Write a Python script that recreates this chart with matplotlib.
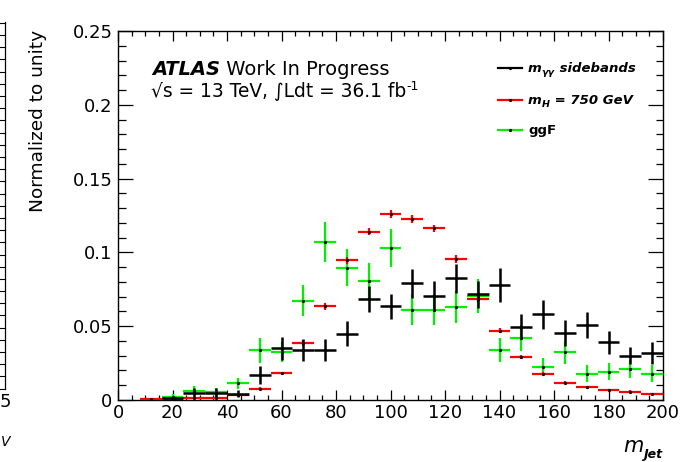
import matplotlib
matplotlib.use("Agg")
import matplotlib.pyplot as plt
from matplotlib.lines import Line2D
from matplotlib.ticker import MultipleLocator, FixedLocator, FixedFormatter
import numpy as np

W, H = 684, 462

# ---------------- data ----------------
bin_centers = [4, 12, 20, 28, 36, 44, 52, 60, 68, 76, 84, 92, 100, 108, 116,
               124, 132, 140, 148, 156, 164, 172, 180, 188, 196]
bin_halfwidth = 4

sideband_vals = [0, 0, 0.0012, 0.0050, 0.0048, 0.0042, 0.0170, 0.0350, 0.0340,
                 0.0340, 0.0450, 0.0686, 0.0634, 0.0790, 0.0704, 0.0824, 0.0715,
                 0.0777, 0.0495, 0.0580, 0.0454, 0.0510, 0.0390, 0.0300, 0.0320]
sideband_errs = [0, 0, 0.0010, 0.0030, 0.0030, 0.0025, 0.0060, 0.0080, 0.0075,
                 0.0075, 0.0085, 0.0087, 0.0085, 0.0100, 0.0100, 0.0097, 0.0090,
                 0.0114, 0.0085, 0.0097, 0.0085, 0.0087, 0.0080, 0.0057, 0.0074]

mH750_vals = [0, 0.0004, 0.0004, 0.0011, 0.0011, 0.0032, 0.0075, 0.0180, 0.0386,
              0.0636, 0.0947, 0.1140, 0.1260, 0.1226, 0.1163, 0.0954, 0.0686,
              0.0470, 0.0290, 0.0177, 0.0118, 0.0086, 0.0068, 0.0057, 0.0039]
mH750_errs = [0, 0.0003, 0.0003, 0.0005, 0.0005, 0.0008, 0.0010, 0.0012, 0.0020,
              0.0023, 0.0025, 0.0025, 0.0030, 0.0030, 0.0025, 0.0027, 0.0025,
              0.0015, 0.0015, 0.0010, 0.0010, 0.0010, 0.0008, 0.0008, 0.0007]

ggF_vals = [0, 0, 0.0018, 0.0064, 0.0052, 0.0112, 0.0336, 0.0325, 0.0674, 0.1070,
            0.0897, 0.0806, 0.1029, 0.0613, 0.0613, 0.0630, 0.0704, 0.0340,
            0.0420, 0.0223, 0.0322, 0.0177, 0.0193, 0.0209, 0.0177]
ggF_errs = [0, 0, 0.0020, 0.0030, 0.0030, 0.0040, 0.0082, 0.0068, 0.0108, 0.0136,
            0.0127, 0.0120, 0.0130, 0.0102, 0.0102, 0.0107, 0.0117, 0.0080,
            0.0087, 0.0062, 0.0076, 0.0057, 0.0056, 0.0060, 0.0057]

x_ticks = [0, 20, 40, 60, 80, 100, 120, 140, 160, 180, 200]
x_ticklabels = ["0", "20", "40", "60", "80", "100", "120", "140", "160", "180", "200"]
y_ticks = [0, 0.05, 0.1, 0.15, 0.2, 0.25]
y_ticklabels = ["0", "0.05", "0.1", "0.15", "0.2", "0.25"]

legend_labels = ["sidebands", "= 750 GeV", "ggF"]

# ---------------- figure ----------------
plt.rcParams["font.family"] = ["DejaVu Sans"]
plt.rcParams["mathtext.fontset"] = "dejavusans"
fig = plt.figure(figsize=(W / 100, H / 100), dpi=100)
fig.patch.set_facecolor("white")

L, R, T, B = 118, 663, 31, 400
ax = fig.add_axes([L / W, 1 - B / H, (R - L) / W, (B - T) / H])
ax.set_xlim(0, 200)
ax.set_ylim(0, 0.25)

GREEN = "#00f000"
RED = "#ff0000"


def draw_series(vals, errs, color, lw, z):
    xs = [c for c, v in zip(bin_centers, vals) if v > 0]
    ys = [v for v in vals if v > 0]
    es = [e for v, e in zip(vals, errs) if v > 0]
    ax.errorbar(xs, ys, xerr=bin_halfwidth, yerr=es, fmt="none",
                ecolor=color, elinewidth=lw, capsize=0, zorder=z)
    ax.plot(xs, ys, "o", color="black", markersize=1.3, zorder=z + 0.1)


draw_series(ggF_vals, ggF_errs, GREEN, 1.6, 3)
draw_series(mH750_vals, mH750_errs, RED, 1.6, 4)
draw_series(sideband_vals, sideband_errs, "black", 1.8, 5)

# ticks
ax.xaxis.set_major_locator(FixedLocator(x_ticks))
ax.xaxis.set_major_formatter(FixedFormatter(x_ticklabels))
ax.xaxis.set_minor_locator(MultipleLocator(5))
ax.yaxis.set_major_locator(FixedLocator(y_ticks))
ax.yaxis.set_major_formatter(FixedFormatter(y_ticklabels))
ax.yaxis.set_minor_locator(MultipleLocator(0.01))
ax.tick_params(axis="both", which="both", direction="in", top=True, right=True,
               width=0.9, colors="black", labelsize=13)
ax.tick_params(axis="x", which="major", length=7.2, pad=3)
ax.tick_params(axis="x", which="minor", length=3.6)
ax.tick_params(axis="y", which="major", length=10.8, pad=4)
ax.tick_params(axis="y", which="minor", length=5.4)
for sp in ax.spines.values():
    sp.set_linewidth(1.0)

# axis titles
fig.text(38 / W, 1 - 30 / H, "Normalized to unity", rotation=90,
         ha="center", va="top", fontsize=13.3)

renderer = fig.canvas.get_renderer()


def place(x0, y0, segs):
    x = x0
    for txt, kw, dy in segs:
        t = fig.text(x / W, 1 - (y0 + dy) / H, txt, ha="left", va="baseline", **kw)
        bb = t.get_window_extent(renderer)
        x = bb.x1
    return x


place(623, 452, [("m", dict(fontsize=15, style="italic"), 0),
                 ("Jet", dict(fontsize=9, style="italic", weight="bold"), 6)])

# ATLAS label
place(152, 75, [("ATLAS", dict(fontsize=14, style="italic", weight="bold"), 0),
                (" Work In Progress", dict(fontsize=14), 0)])
place(151, 97, [("√s = 13 TeV, ∫Ldt = 36.1 fb", dict(fontsize=13.4), 0),
                ("-1", dict(fontsize=9), -7)])

# legend
leg_colors = ["black", RED, GREEN]
leg_y = [68, 100, 130]
for c, y in zip(leg_colors, leg_y):
    fig.add_artist(Line2D([498 / W, 522 / W], [1 - y / H, 1 - y / H],
                          color=c, lw=1.6))
    fig.add_artist(Line2D([510 / W], [1 - y / H], marker="o", markersize=1.3,
                          color="black", lw=0))
bi = dict(fontsize=9.5, style="italic", weight="bold")
sub = dict(fontsize=6.8, style="italic", weight="bold")
place(528, 72, [("m", bi, 0), ("γγ", sub, 3), (" " + legend_labels[0], bi, 0)])
place(528, 104, [("m", bi, 0), ("H", sub, 3), (" " + legend_labels[1], bi, 0)])
place(528, 134, [(legend_labels[2], dict(fontsize=9.5, weight="bold"), 0)])

# cropped neighbouring panel edge at far left
fig.add_artist(Line2D([5 / W, 5 / W], [1 - 22 / H, 1 - 389 / H], color="black", lw=0.9))
for k in range(31):
    yy = 22.7 + 12.2 * k
    if yy > 389:
        break
    fig.add_artist(Line2D([0, 5 / W], [1 - yy / H, 1 - yy / H], color="black", lw=0.8))
fig.text(11 / W, 1 - 402 / H, "5", ha="right", va="center", fontsize=13)
fig.text(0.5 / W, 1 - 442 / H, "V", ha="left", va="center", fontsize=10, style="italic")

fig.savefig("out.png", dpi=100, facecolor="white")
